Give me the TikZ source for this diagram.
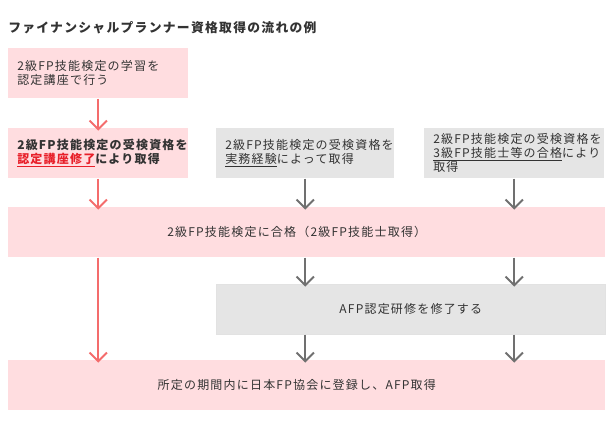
\documentclass[tikz,border=0pt]{standalone}
\usepackage{fontspec}
\setmainfont[LetterSpace=10]{Noto Sans CJK JP}
\usepackage{tikz}
\usetikzlibrary{arrows.meta}

\definecolor{boxpink}{HTML}{FFDDE0}
\definecolor{boxgrey}{HTML}{E5E5E5}
\definecolor{arrowred}{HTML}{F46C6C}
\definecolor{arrowgrey}{HTML}{707070}
\definecolor{textgrey}{HTML}{333333}
\definecolor{linkred}{HTML}{E8202A}

\tikzset{
  flowbox/.style={anchor=north west, inner sep=0pt, inner xsep=6.75pt, minimum height=37.5pt, text=textgrey, font=\fontsize{9pt}{10.5pt}\selectfont},
  pinkbox/.style={flowbox, fill=boxpink},
  greybox/.style={flowbox, fill=boxgrey},
  redarrow/.style={draw=arrowred, line width=1.5pt, -{Straight Barb[length=6.5pt,width=13pt]}, shorten >=-2pt},
  greyarrow/.style={draw=arrowgrey, line width=1.5pt, -{Straight Barb[length=6.5pt,width=13pt]}, shorten >=-2pt}
}

\begin{document}
\begin{tikzpicture}[x=0.75pt,y=0.75pt,yscale=-1]
\useasboundingbox (0,0) rectangle (612,430);

% Title
\node (title) [anchor=west, inner sep=0pt, text=textgrey, font=\fontsize{9.6pt}{12pt}\selectfont\bfseries] at (8,28) {ファイナンシャルプランナー資格取得の流れの例};

%Shape: Rectangle [id:study]
\node (b1) [pinkbox, minimum width=135pt, text width=121.5pt, align=left] at (8,48) {2級FP技能検定の学習を\\認定講座で行う};
%Shape: Rectangle [id:course]
\node (b2) [pinkbox, minimum width=135pt, text width=121.5pt, align=left, font=\fontsize{9pt}{10.5pt}\selectfont\bfseries] at (8,128) {2級FP技能検定の受検資格を\\\textcolor{linkred}{\underline{認定講座修了}}により取得};
%Shape: Rectangle [id:practice]
\node (b3) [greybox, minimum width=133.5pt, text width=120pt, align=left] at (216,128) {2級FP技能検定の受検資格を\\\underline{実務経験}によって取得};
%Shape: Rectangle [id:third]
\node (b4) [greybox, minimum width=135pt, text width=121.5pt, align=left] at (424,128) {2級FP技能検定の受検資格を\\\underline{3級FP技能士等の合格}により\\取得};
%Shape: Rectangle [id:pass]
\node (b5) [pinkbox, minimum width=447.75pt, align=center] at (8,207) {2級FP技能検定に合格（2級FP技能士取得）\hspace*{15pt}};
%Shape: Rectangle [id:afp]
\node (afp) [greybox, draw=boxgrey!80!black!40, line width=0.5pt, minimum width=291.75pt, align=center] at (216,284) {AFP認定研修を修了する};
%Shape: Rectangle [id:register]
\node (b6) [pinkbox, minimum width=447.75pt, align=center] at (8,360) {所定の期間内に日本FP協会に登録し、AFP取得\hspace*{15pt}};

%Straight Lines
\draw [redarrow] (b1.south) -- (b2.north);
\draw [redarrow] (b2.south) -- (b5.north -| b2.south);
\draw [greyarrow] (b3.south) -- (b5.north -| b3.south);
\draw [greyarrow] (b4.south) -- (b5.north -| b4.south);
\draw [redarrow] (b5.south -| b2.south) -- (b6.north -| b2.south);
\draw [greyarrow] (b5.south -| b3.south) -- (afp.north -| b3.south);
\draw [greyarrow] (b5.south -| b4.south) -- (afp.north -| b4.south);
\draw [greyarrow] (afp.south -| b3.south) -- (b6.north -| b3.south);
\draw [greyarrow] (afp.south -| b4.south) -- (b6.north -| b4.south);

\end{tikzpicture}
\end{document}
